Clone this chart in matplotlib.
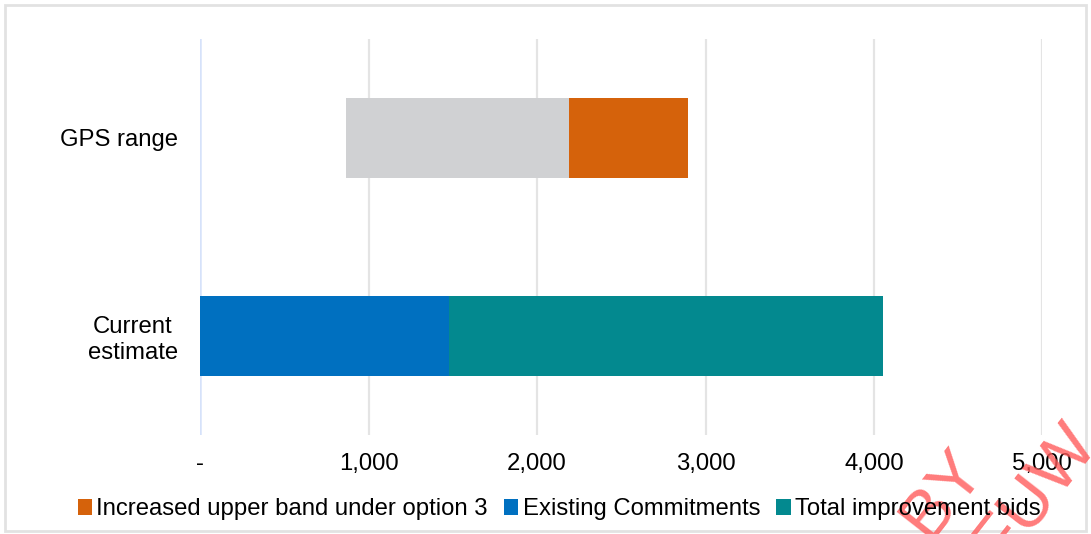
import matplotlib
matplotlib.use("Agg")
import matplotlib.pyplot as plt
from matplotlib.patches import Rectangle

plt.rcParams['font.family'] = ['Liberation Sans', 'DejaVu Sans']

categories = ["Current\nestimate", "GPS range"]
gps_offset = [0, 866]          # invisible start of GPS range
gps_range = [0, 1326]          # grey band
upper_band = [0, 702]          # Increased upper band under option 3
existing = [1479, 0]           # Existing Commitments
improvement = [2573, 0]        # Total improvement bids
xticks = [0, 1000, 2000, 3000, 4000, 5000]
xticklabels = ["-", "1,000", "2,000", "3,000", "4,000", "5,000"]

FS = 17.2

fig = plt.figure(figsize=(10.91, 5.34), dpi=100)
ax = fig.add_axes([0.1836, 0.1854, 0.7718, 0.7416])

y = list(range(len(categories)))
h = 0.405
ax.barh(y, gps_offset, height=h, color='none')
ax.barh(y, gps_range, left=gps_offset, height=h, color='#D0D1D3')
left_ub = [a + b for a, b in zip(gps_offset, gps_range)]
b1 = ax.barh(y, upper_band, left=left_ub, height=h, color='#D5620B',
             label='Increased upper band under option 3')
b2 = ax.barh(y, existing, height=h, color='#0070C0', label='Existing Commitments')
b3 = ax.barh(y, improvement, left=existing, height=h, color='#03898F',
             label='Total improvement bids')

ax.set_xlim(0, 5000)
ax.set_ylim(-0.5, 1.5)
ax.set_xticks(xticks)
ax.set_xticklabels(xticklabels, fontsize=FS, color='#000000')
ax.set_yticks(y)
ax.set_yticklabels(categories, fontsize=FS, ha='right', multialignment='center')
ax.tick_params(axis='y', length=0, pad=16)
ax.tick_params(axis='x', length=0, pad=13)
for s in ax.spines.values():
    s.set_visible(False)
ax.set_axisbelow(True)
for xv in xticks[1:]:
    ax.axvline(xv, color='#E4E4E4', lw=1.6, zorder=0)
ax.axvline(0, color='#D6E2FA', lw=1.8, zorder=0)

fig.legend(handles=[b1, b2, b3], loc='center', bbox_to_anchor=(0.5125, 0.046),
           ncol=3, frameon=False, fontsize=FS, handlelength=0.6, handleheight=0.6,
           handletextpad=0.17, columnspacing=0.68, borderpad=0)

# outer border
fig.patches.append(Rectangle((0.0045, 0.006), 0.991, 0.985, transform=fig.transFigure,
                             fill=False, edgecolor='#E2E2E2', lw=2))

# watermark fragments (partly outside the picture, as in the reference)
fig.text(0.815, -0.03, "BY", color='#FF5A5A', alpha=0.8, fontsize=50,
         rotation=52, ha='left', va='bottom')
fig.text(0.88, -0.075, "FUW", color='#FF5A5A', alpha=0.8, fontsize=50,
         rotation=52, ha='left', va='bottom')

fig.savefig("out.png", dpi=100)
